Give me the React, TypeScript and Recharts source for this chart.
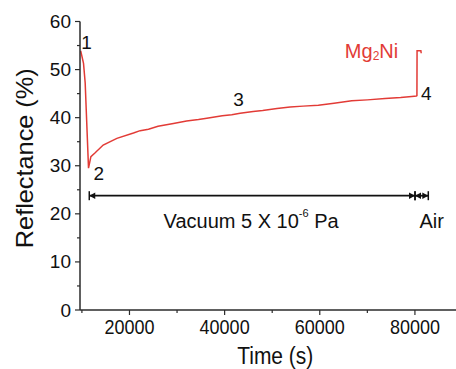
import { Label, Line, LineChart, ReferenceDot, ReferenceLine, XAxis, YAxis } from "recharts";

// reflectance of the Mg2Ni film vs time (vacuum, then air)
const timeS = [
  9650, 9790, 10340, 10690, 11390, 11890, 12790, 14470, 17350, 20840, 22250, 23990, 26000, 29240, 32000,
  34500, 36260, 39500, 41500, 43260, 46000, 48000, 51000, 53760, 56500, 59700, 63000, 66720, 70000,
  73720, 77000, 79330, 80300, 80420, 80450, 81250, 81320,
];
const reflectance = [
  53.6, 53.7, 51.3, 47.2, 29.5, 31.9, 32.7, 34.3, 35.7, 36.8, 37.3, 37.6, 38.2, 38.8, 39.3,
  39.6, 39.9, 40.4, 40.6, 40.9, 41.3, 41.5, 41.9, 42.2, 42.4, 42.6, 43.0, 43.5, 43.7,
  44.0, 44.2, 44.4, 44.5, 44.6, 53.9, 53.9, 53.4,
];

const xTicks = [10000, 20000, 30000, 40000, 50000, 60000, 70000, 80000, 90000];
const yTicks = [0, 5, 10, 15, 20, 25, 30, 35, 40, 45, 50, 55, 60];

// numbered points on the curve
const pointNames = ["1", "2", "3", "4"];
const pointTimes = [10970, 13570, 42900, 82370];
const pointValues = [55.6, 28.4, 43.7, 45.1];

// periods shown by the arrows
const vacuumSpan = [11550, 80020];
const airSpan = [80020, 82810];
const spanLevel = 23.77;
const spanTextLevel = 18.55;
const vacuumTextTime = 45570;
const airTextTime = 83530;
const seriesNameTime = 70880;
const seriesNameLevel = 53.8;

const data = timeS.map((t, i) => ({ t, r: reflectance[i] }));

const RED = "#e23b36";
const AXIS = "#2b2b2b";
const FONT = "'Liberation Sans', Arial, sans-serif";

function XTick(props: any) {
  const { x, y, payload } = props;
  const major = payload.value % 20000 === 0;
  return (
    <g>
      <line x1={x} x2={x} y1={y} y2={y + (major ? 5 : 3)} stroke={AXIS} strokeWidth={1.2} />
      {major && (
        <text
          transform={`translate(${x},${y + 17}) scale(1,1.08)`}
          textAnchor="middle"
          dominantBaseline="central"
          fontSize={18}
          fontFamily={FONT}
          fill="#111"
        >
          {payload.value}
        </text>
      )}
    </g>
  );
}

function YTick(props: any) {
  const { x, y, payload } = props;
  const major = payload.value % 10 === 0;
  return (
    <g>
      <line x1={x - (major ? 5 : 3)} x2={x} y1={y} y2={y} stroke={AXIS} strokeWidth={1.2} />
      {major && (
        <text x={x - 9} y={y} textAnchor="end" dominantBaseline="central" fontSize={19} fontFamily={FONT} fill="#111">
          {payload.value}
        </text>
      )}
    </g>
  );
}

function TimeTitle(props: any) {
  const vb = props.viewBox;
  return (
    <text
      transform={`translate(${vb.x + vb.width / 2 + 4},${vb.y + 54}) scale(1,1.12)`}
      textAnchor="middle"
      fontSize={21}
      fontFamily={FONT}
      fill="#111"
    >
      Time (s)
    </text>
  );
}

function ReflTitle(props: any) {
  const vb = props.viewBox;
  const cx = vb.x + 25;
  const cy = vb.y + vb.height / 2 - 7.5;
  return (
    <text
      transform={`translate(${cx},${cy}) rotate(-90) scale(1.1,1)`}
      textAnchor="middle"
      dominantBaseline="central"
      fontSize={23}
      fontFamily={FONT}
      fill="#111"
    >
      Reflectance (%)
    </text>
  );
}

function SpanArrow(props: any) {
  const { x1, x2, y1 } = props;
  const h = 6;
  const w = 3.2;
  return (
    <g>
      <line x1={x1} x2={x2} y1={y1} y2={y1} stroke="#111" strokeWidth={1.8} />
      <polygon points={`${x1},${y1} ${x1 + h},${y1 - w} ${x1 + h},${y1 + w}`} fill="#111" />
      <polygon points={`${x2},${y1} ${x2 - h},${y1 - w} ${x2 - h},${y1 + w}`} fill="#111" />
      <line x1={x1} x2={x1} y1={y1 - 4.5} y2={y1 + 4.5} stroke="#111" strokeWidth={1.5} />
      <line x1={x2} x2={x2} y1={y1 - 4.5} y2={y1 + 4.5} stroke="#111" strokeWidth={1.5} />
    </g>
  );
}

function textShape(content: any, size: number, fill: string) {
  return (p: any) => (
    <text x={p.cx} y={p.cy} textAnchor="middle" dominantBaseline="central" fontSize={size} fontFamily={FONT} fill={fill}>
      {content}
    </text>
  );
}

export default function App() {
  return (
    <div style={{ position: "absolute", left: 0, top: 0, width: 456, height: 369, overflow: "hidden", background: "#fff" }}>
      <LineChart width={470} height={369} data={data} margin={{ top: 21.5, right: 7.5, bottom: 0, left: 0 }}>
        <XAxis
          dataKey="t"
          type="number"
          domain={[9600, 90000]}
          ticks={xTicks}
          interval={0}
          tickSize={0}
          tickMargin={0}
          tick={<XTick />}
          height={59}
          axisLine={{ stroke: AXIS, strokeWidth: 1.5 }}
          allowDataOverflow
        >
          <Label content={<TimeTitle />} />
        </XAxis>
        <XAxis
          xAxisId="top"
          orientation="top"
          dataKey="t"
          type="number"
          domain={[9600, 90000]}
          height={0}
          tick={false}
          tickLine={false}
          axisLine={{ stroke: AXIS, strokeWidth: 1.5 }}
        />
        <YAxis
          type="number"
          domain={[0, 60]}
          ticks={yTicks}
          interval={0}
          width={80}
          tickSize={0}
          tickMargin={0}
          tick={<YTick />}
          axisLine={{ stroke: AXIS, strokeWidth: 1.5 }}
        >
          <Label content={<ReflTitle />} />
        </YAxis>
        <Line
          type="linear"
          dataKey="r"
          stroke={RED}
          strokeWidth={1.5}
          dot={false}
          isAnimationActive={false}
        />
        <ReferenceLine
          segment={[{ x: vacuumSpan[0], y: spanLevel }, { x: vacuumSpan[1], y: spanLevel }]}
          shape={(p: any) => <SpanArrow {...p} />}
        />
        <ReferenceLine
          segment={[{ x: airSpan[0], y: spanLevel }, { x: airSpan[1], y: spanLevel }]}
          shape={(p: any) => <SpanArrow {...p} />}
        />
        {pointNames.map((n, i) => (
          <ReferenceDot key={n} x={pointTimes[i]} y={pointValues[i]} r={0} shape={textShape(n, 19, "#111")} />
        ))}
        <ReferenceDot
          x={seriesNameTime}
          y={seriesNameLevel}
          r={0}
          shape={textShape(
            <>
              Mg<tspan fontSize={12} dy={5}>2</tspan>
              <tspan dy={-5}>Ni</tspan>
            </>,
            20,
            RED
          )}
        />
        <ReferenceDot
          x={vacuumTextTime}
          y={spanTextLevel}
          r={0}
          shape={textShape(
            <>
              Vacuum 5 X 10<tspan fontSize={11} dy={-8}>-6</tspan>
              <tspan dy={8}> Pa</tspan>
            </>,
            20,
            "#111"
          )}
        />
        <ReferenceDot x={airTextTime} y={spanTextLevel} r={0} shape={textShape("Air", 20, "#111")} />
      </LineChart>
    </div>
  );
}
